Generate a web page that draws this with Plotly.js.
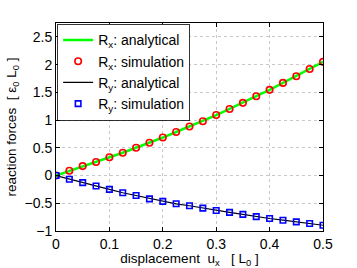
<!DOCTYPE html>
<html><head><meta charset="utf-8">
<script src="https://cdn.plot.ly/plotly-3.0.1.min.js"></script>
<style>body{margin:0;background:#fff}#c{width:357px;height:268px}</style>
</head><body><div id="c"></div>
<script>
const ux = [0,0.025,0.05,0.075,0.1,0.125,0.15,0.175,0.2,0.225,0.25,0.275,0.3,0.325,0.35,0.375,0.4,0.425,0.45,0.475,0.5];
const Rx = [0,0.085,0.17,0.245,0.33,0.41,0.5,0.59,0.685,0.785,0.885,0.98,1.09,1.2,1.31,1.43,1.545,1.67,1.79,1.92,2.05];
const Ry = [0,-0.066,-0.127,-0.19,-0.25,-0.31,-0.36,-0.42,-0.465,-0.51,-0.545,-0.587,-0.63,-0.665,-0.70,-0.74,-0.775,-0.805,-0.836,-0.865,-0.896];
const yTicks = [-1,-0.5,0,0.5,1,1.5,2,2.5];
const yTickText = ['\u22121','\u22120.5','0','0.5','1','1.5','2','2.5'];
const xTicks = [0,0.1,0.2,0.3,0.4,0.5];
const xTickText = ['0','0.1','0.2','0.3','0.4','0.5'];

const traces = [
 {x:ux,y:Rx,mode:'lines',name:'R<sub>x</sub>: analytical',legendgroup:'a',line:{color:'#00ff00',width:2.5}},
 {x:ux,y:Rx,mode:'markers',name:'R<sub>x</sub>: simulation',legendgroup:'b',marker:{symbol:'circle-open',color:'#ff0000',size:6.5,line:{width:1.6}}},
 {x:ux,y:Ry,mode:'lines',name:'R<sub>y</sub>: analytical',legendgroup:'c',line:{color:'#000000',width:1.2}},
 {x:ux,y:Ry,mode:'markers',name:'R<sub>y</sub>: simulation',legendgroup:'d',marker:{symbol:'square-open',color:'#0000ff',size:5.5,line:{width:1.6}}}
];
const axCommon = {showline:true,linecolor:'#000',linewidth:1,mirror:'ticks',ticks:'inside',ticklen:4,tickcolor:'#000',
  showgrid:true,gridcolor:'#c8c8c8',griddash:'dot',gridwidth:1,zeroline:false,tickfont:{size:14,color:'#000'}};
const layout = {
 width:357,height:268,margin:{l:56,r:34,t:23,b:37},paper_bgcolor:'#fff',plot_bgcolor:'#fff',
 font:{family:'Liberation Sans, Arial, sans-serif',size:13,color:'#000'},
 xaxis:Object.assign({},axCommon,{range:[0,0.5],tickvals:xTicks,ticktext:xTickText,
   title:{text:'displacement  u<sub>x</sub>   [ L<sub>0</sub> ]',font:{size:13.5},standoff:0}}),
 yaxis:Object.assign({},axCommon,{range:[-1,2.75],tickvals:yTicks,ticktext:yTickText,
   title:{text:'reaction forces  [ \u03b5<sub>0</sub> L<sub>0</sub> ]',font:{size:13.5},standoff:4}}),
 showlegend:true,
 legend:{x:0.005,y:0.997,xanchor:'left',yanchor:'top',bordercolor:'#000',borderwidth:0.8,bgcolor:'#fff',
   font:{size:14},tracegroupgap:3,itemwidth:30,traceorder:'normal'}
};
Plotly.newPlot('c',traces,layout,{displayModeBar:false,staticPlot:true});
</script></body></html>
